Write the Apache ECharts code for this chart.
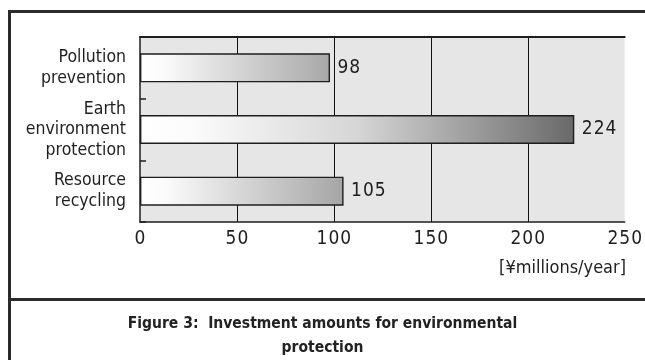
<!DOCTYPE html>
<html>
<head>
<meta charset="utf-8">
<script src="https://cdn.jsdelivr.net/npm/echarts@6/dist/echarts.min.js"></script>
<style>
  html, body { margin: 0; padding: 0; background: #ffffff; }
  #chart { width: 645px; height: 360px; }
</style>
</head>
<body>
<div id="chart"></div>
<script>
// Investment categories (top to bottom) and amounts in ¥ millions per year
const categories = ['Pollution\nprevention', 'Earth\nenvironment\nprotection', 'Resource\nrecycling'];
const amounts = [98, 224, 105];
const xTicks = [0, 50, 100, 150, 200, 250];
const unitLabel = '[¥millions/year]';
const titleLines = ['Figure 3:  Investment amounts for environmental', 'protection'];

const COND = '"DejaVu Sans Condensed", "Liberation Sans", sans-serif';
const INK = '#1e1e1e';
const FRAME = '#2b2b2b';

// tracked digits: each character gets a little horizontal padding
const digitRich = {
  d: { fontSize: 19, fontFamily: COND, color: INK, padding: [0, 0.5, 0, 0.5] }
};
function tracked(v) {
  return String(v).split('').map(c => '{d|' + c + '}').join('');
}

// white-to-grey fill; longer bars finish darker
function barFill(v) {
  const end = Math.round(217 - 0.5 * v);
  const q = Math.round((214 + end) / 2);
  const g = n => 'rgb(' + n + ',' + n + ',' + n + ')';
  return new echarts.graphic.LinearGradient(0, 0, 1, 0, [
    { offset: 0, color: '#ffffff' },
    { offset: 0.12, color: '#fbfbfb' },
    { offset: 0.5, color: g(214) },
    { offset: 0.75, color: g(q) },
    { offset: 1, color: g(end) }
  ]);
}

const chart = echarts.init(document.getElementById('chart'), null, { renderer: 'canvas' });

chart.setOption({
  animation: false,
  backgroundColor: '#ffffff',
  grid: {
    left: 140, right: 20, top: 37, bottom: 138,
    show: true, backgroundColor: '#e6e6e6', borderWidth: 0
  },
  xAxis: [{
    type: 'value',
    min: xTicks[0], max: xTicks[xTicks.length - 1], interval: 50,
    position: 'bottom',
    axisLine: { show: true, lineStyle: { color: INK, width: 1.5 } },
    axisTick: { show: false },
    splitLine: {
      show: true, showMinLine: false, showMaxLine: false,
      lineStyle: { color: '#111111', width: 1 }
    },
    axisLabel: { margin: 8, formatter: v => tracked(v), rich: digitRich }
  }, {
    type: 'value',
    min: xTicks[0], max: xTicks[xTicks.length - 1], interval: 50,
    position: 'top',
    axisLine: { show: true, lineStyle: { color: INK, width: 2 } },
    axisTick: { show: false },
    axisLabel: { show: false },
    splitLine: { show: false }
  }],
  yAxis: {
    type: 'category',
    data: categories,
    inverse: true,
    axisLine: { show: true, lineStyle: { color: INK, width: 1.5 } },
    axisTick: { show: true, inside: true, length: 6, lineStyle: { color: INK, width: 1.5 } },
    axisLabel: { margin: 14, fontSize: 17.5, lineHeight: 20.5, color: INK, fontFamily: COND, align: 'right' }
  },
  series: [{
    type: 'bar',
    barWidth: 29,
    data: amounts.map(v => ({
      value: v,
      itemStyle: { color: barFill(v), borderColor: '#1e1e1e', borderWidth: 1.4 }
    })),
    label: { show: true, position: 'right', distance: 7, formatter: p => tracked(p.value), rich: digitRich }
  }],
  graphic: [
    // outer frame: left edge, top edge, caption divider
    { type: 'rect', shape: { x: 8, y: 10, width: 3, height: 350 }, style: { fill: FRAME }, silent: true },
    { type: 'rect', shape: { x: 8, y: 10, width: 637, height: 3 }, style: { fill: FRAME }, silent: true },
    { type: 'rect', shape: { x: 8, y: 298, width: 637, height: 3 }, style: { fill: FRAME }, silent: true },
    {
      type: 'text', right: 19, top: 259,
      style: { text: unitLabel, fontSize: 18, fill: INK, fontFamily: COND, textAlign: 'right' }
    },
    {
      type: 'text', left: 'center', top: 312,
      style: {
        text: titleLines.join('\n'), fontSize: 15.5, lineHeight: 24, fontWeight: 'bold',
        fill: '#222222', fontFamily: COND, textAlign: 'center'
      }
    }
  ]
});
</script>
</body>
</html>
